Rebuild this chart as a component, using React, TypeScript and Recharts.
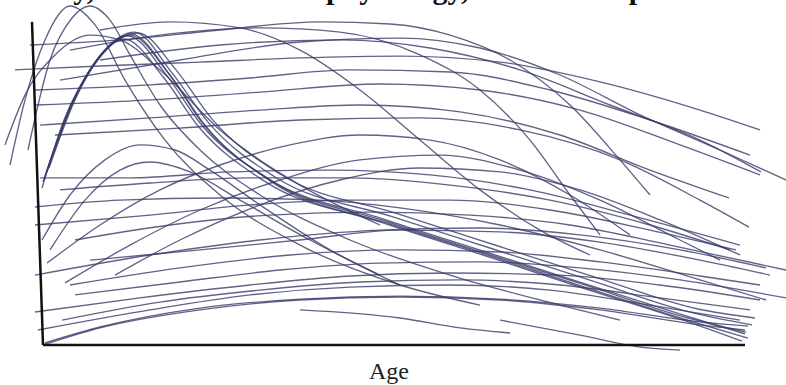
import React from "react";
import { LineChart, Line, XAxis, YAxis, ReferenceLine } from "recharts";

type Pt = [number, number];

// Age (x) and trait value (y)
const bundle1: Pt[] = [[0.3,54.3],[2.7,76.7],[6,96.3],[8.8,103],[12.7,89.7],[16,74],[22.7,55.7],[34.6,41.7],[44.6,31],[54.6,20.3],[64.6,9.7],[70.5,3.7]];
const bundle2: Pt[] = [[0.5,56.3],[3,79],[6.3,97.7],[9.1,103.7],[13,90],[16.5,73.3],[23.2,54.3],[35,40.3],[45,29.7],[55,18.7],[65,8],[70.8,2.3]];
const bundle3: Pt[] = [[0.7,57.7],[3.2,80.3],[6.6,98.7],[9.4,104.3],[13.2,90.7],[16.8,74.3],[23.5,56],[35.3,42.7],[45.3,32],[55.3,21.3],[65.3,10.7],[71.2,6.7]];
const bundle4: Pt[] = [[0.2,52.3],[2.4,75],[5.6,94.3],[8.4,102],[12.4,89],[15.8,73],[22.4,54.7],[34.3,40.7],[44.3,30],[54.3,19],[64.3,8.3],[70.2,1.3]];
const bundle5: Pt[] = [[0.9,59],[3.5,81.7],[7,99.7],[9.8,104],[13.6,91.7],[17.2,75.3],[24,57],[35.8,43.7],[45.8,33],[55.8,22.3],[65.8,12],[71.5,9]];
const bundle6: Pt[] = [[0.4,55],[2.9,78],[6.2,97],[9,103.3],[12.9,90.3],[16.3,73.7],[23,55],[34.8,41],[44.8,30.3],[54.8,19.7],[64.8,9],[70.6,4.3]];

const early1: Pt[] = [[-3,60],[-1.5,81.7],[0.5,101.7],[3,113],[5.5,106.7],[8.5,88.3],[12.5,68.3],[18,50],[26,33.3],[36,20],[44,13.3]];
const early2: Pt[] = [[-1.2,65],[1,95],[3.2,109],[5,113],[7,108.3],[9,96.7],[12,80],[16,65],[22,50],[31,35],[41,23.3],[52,13.3],[58,8.3]];
const early3: Pt[] = [[-3.5,66.7],[-1.5,83.3],[1.5,96.7],[5,103.3],[8,101.7],[12,91.7],[18,71.7],[26,53.3],[34,40]];

const mid1: Pt[] = [[0.2,35],[3,50],[6.5,61.7],[10,66.7],[13.5,65],[17,58.3],[22,46.7],[29,31.7],[36,20]];
const mid2: Pt[] = [[1,31.7],[4.5,48.3],[8,58.3],[11,61],[15,57.7],[20,48.3],[27,35],[34,23.3]];
const mid3: Pt[] = [[0.7,27.3],[6,40],[12,51.7],[18,60],[25,66.7],[32,70],[39,68.3],[46,61.7],[53,50],[59,36.7]];
const mid4: Pt[] = [[2.5,20.7],[9,33.3],[16,45],[24,55],[32,61.7],[40,63.3],[48,58.3],[56,48.3],[64,35],[68,28.3]];
const mid5: Pt[] = [[7.5,23.3],[14,35],[22,46.7],[30,55],[38,59],[46,57.7],[54,51.7],[62,41.7],[70,30]];

const flat1: Pt[] = [[-2.5,91.7],[6,93],[16,94.3],[26,95.7],[36,96.3],[46,94.3],[56,87.7],[66,78.3],[72,71.7]];
const flat2: Pt[] = [[-0.5,85],[11,86.7],[21,89],[31,91.7],[41,91],[51,85],[61,75],[71,63.3]];
const flat3: Pt[] = [[-0.5,80],[11,81.7],[22,84.3],[34,87],[44,85],[54,78.3],[64,66.7],[72,56.7]];
const flat4: Pt[] = [[0,73.3],[11,75.7],[22,78.3],[32,80],[42,77.7],[52,70],[61,58.3],[68.9,49]];
const flat5: Pt[] = [[1.5,70],[14,72.3],[26,75],[38,75.7],[48,71.7],[58,61.7],[66,48.3],[70.9,39.3]];

const high1: Pt[] = [[-1,100],[8,101.7],[18,105],[28,107.7],[35,107],[41,103.3],[47,95],[53,80],[58,61.7],[61,50]];
const high2: Pt[] = [[2,88.3],[14,95],[26,101],[36,102.3],[44,99],[52,90],[60,76.7],[68,65],[74.6,55]];
const high3: Pt[] = [[6,95],[18,100],[30,101.7],[39,99],[48,91.7],[57,80],[66,68.3],[72.1,57.7]];
const high4: Pt[] = [[3,98.3],[12,103.3],[22,105.7],[30,104.3],[38,96.7],[44,85],[49,68.3],[53,50],[56,36.7]];
const high5: Pt[] = [[6,105],[13,107.7],[20,105.7],[26,98.3],[32,85],[38,68.3],[44,51.7],[50,38.3],[55,30]];

const low1: Pt[] = [[0.3,0],[6,5.7],[16,11.7],[26,15],[36,16],[46,15],[56,11.7],[66,6.7],[70.5,5]];
const low2: Pt[] = [[0.5,0.7],[6,6],[16,12.3],[26,15.3],[36,16.3],[46,15.3],[56,12.3],[66,7.7],[70.8,6.3]];
const low3: Pt[] = [[-0.2,5],[11,11.7],[21,16.7],[31,19.3],[41,20],[51,18.3],[61,13.3],[70,8.3]];
const low4: Pt[] = [[2.2,8.3],[12,14.3],[22,18.3],[32,21],[42,21.7],[52,20],[62,15.7],[71,11.7]];
const low5: Pt[] = [[-0.5,11],[10,15.7],[21,20],[31,23],[41,24],[52,23.3],[62,20],[72,15]];
const low6: Pt[] = [[3.5,16.7],[14,21],[24,25],[34,27.3],[44,27.7],[54,25.7],[64,21.7],[74.6,15.7]];
const low7: Pt[] = [[26,11.7],[36,9],[42,5.7],[47,4]];
const low8: Pt[] = [[46,8.3],[54,3.3],[60,-0.7],[64,-1.7]];

const slope1: Pt[] = [[-0.5,23.3],[11,30],[22,35],[34,38.3],[44,39],[54,36.7],[64,31.7],[72.6,25.7]];
const slope2: Pt[] = [[-0.5,40],[11,43.3],[21,46.7],[31,48.3],[41,48.3],[51,45],[61,38.3],[69.6,31.7]];
const slope3: Pt[] = [[-0.5,46],[8,48.3],[18,49],[28,48.3],[36,45.7],[46,40],[56,31.7],[66,21.7],[72.6,15]];
const slope4: Pt[] = [[2,51.7],[11,54],[21,55.7],[31,55.7],[41,53.3],[51,48.3],[61,40],[69,31.7]];
const slope5: Pt[] = [[3.5,35],[13,40],[23,43.3],[33,44.3],[43,43.3],[53,40],[63,33.3],[74.6,25]];
const slope6: Pt[] = [[5,28.3],[16,31.7],[26,35],[36,38.3],[46,37.7],[56,34.3],[66,28.3],[73,23.3]];
const slope7: Pt[] = [[0,55.7],[9,55.7],[19,57.7],[29,58.3],[39,56.7],[49,51.7],[59,43.3],[70,33.3]];
const slope8: Pt[] = [[3,20],[14,25.7],[25,30],[36,31.7],[46,31],[56,27.7],[66,23],[72,20]];

const curves: Pt[][] = [
  bundle1, bundle2, bundle3, bundle4, bundle5, bundle6,
  early1, early2, early3,
  mid1, mid2, mid3, mid4, mid5,
  flat1, flat2, flat3, flat4, flat5,
  high1, high2, high3, high4, high5,
  low1, low2, low3, low4, low5, low6, low7, low8,
  slope1, slope2, slope3, slope4, slope5, slope6, slope7, slope8,
];

const xDomain: [number, number] = [-4, 74.6];
const yDomain: [number, number] = [-13.333, 115];
const yAxisSegment = [{ x: -0.8, y: 107.7 }, { x: 0.3, y: 0 }];
const xAxisSegment = [{ x: 0.3, y: 0 }, { x: 70.5, y: 0 }];

const titleText = "Anatomy, neural and brain physiology, and related performance";
const xLabel = "Age";

export default function App() {
  return (
    <div style={{ position: "absolute", left: 0, top: 0, width: 786, height: 385, background: "#fff" }}>
      <LineChart width={786} height={385} margin={{ top: 0, right: 0, bottom: 0, left: 0 }}>
        <XAxis type="number" dataKey="a" domain={xDomain} allowDataOverflow hide />
        <YAxis type="number" dataKey="v" domain={yDomain} allowDataOverflow hide />
        {curves.map((c, i) => (
          <Line
            key={i}
            data={c.map(([a, v]) => ({ a, v }))}
            dataKey="v"
            type="monotone"
            dot={false}
            activeDot={false}
            stroke="#383b69"
            strokeOpacity={0.8}
            strokeWidth={1.35}
            isAnimationActive={false}
          />
        ))}
        <ReferenceLine segment={yAxisSegment} stroke="#111" strokeWidth={2.5} ifOverflow="visible" />
        <ReferenceLine segment={xAxisSegment} stroke="#111" strokeWidth={2.5} ifOverflow="visible" />
      </LineChart>
      <svg width={786} height={385} style={{ position: "absolute", left: 0, top: 0, pointerEvents: "none" }}>
        <text x={-30} y={-1} fontFamily="Liberation Serif" fontWeight="bold" fontSize={30} fill="#111">{titleText}</text>
        <text x={389} y={379} textAnchor="middle" fontFamily="Liberation Serif" fontSize={24} fill="#222">{xLabel}</text>
      </svg>
    </div>
  );
}
